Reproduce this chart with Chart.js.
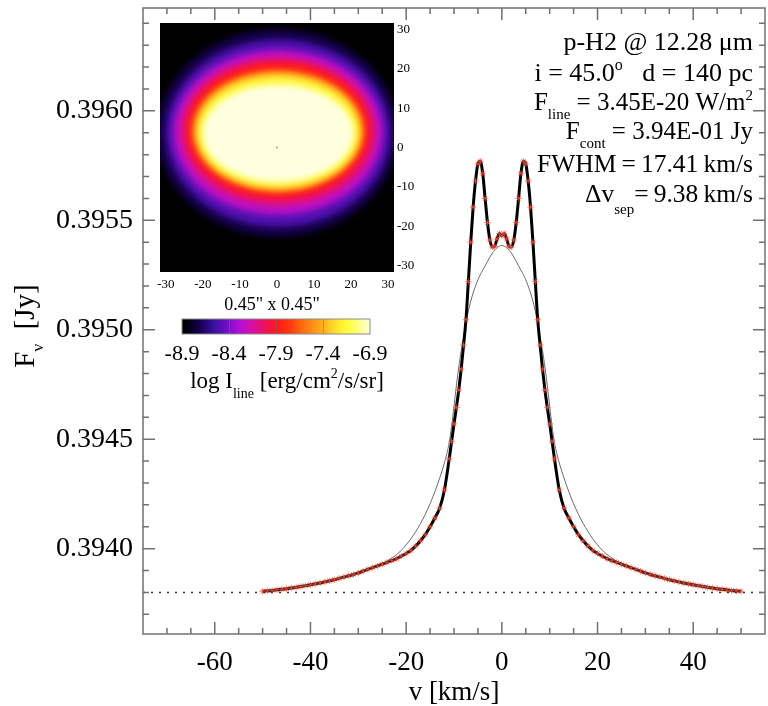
<!DOCTYPE html>
<html lang="en">
<head>
<meta charset="UTF-8" />
<title>p-H2 line profile</title>
<script src="https://cdn.jsdelivr.net/npm/chart.js"></script>
<style>
    html, body { margin: 0; padding: 0; background: #fff; overflow: hidden; }
    #wrap { position: relative; width: 770px; height: 706px; }
    #mainBox { position: absolute; left: 0; top: 0; width: 770px; height: 706px; }
    #insetBox { position: absolute; left: 150px; top: 0; width: 290px; height: 320px; }
    #barBox { position: absolute; left: 150px; top: 310px; width: 260px; height: 90px; }
</style>
</head>
<body>
<div id="wrap">
    <div id="mainBox"><canvas id="profile"></canvas></div>
    <div id="insetBox"><canvas id="inset"></canvas></div>
    <div id="barBox"><canvas id="cbar"></canvas></div>
</div>

<script>
// line profile, v in km/s, flux in Jy
const velocity = [
    -50, -49, -48, -47, -46, -45, -44, -43, -42, -41, -40, -39, -38, -37, -36, -35, -34, -33, -32, -31,
    -30, -29, -28, -27, -26, -25, -24, -23, -22, -21, -20, -19, -18, -17, -16, -15, -14, -13, -12, -11,
    -10.5, -10, -9.5, -9, -8.5, -8, -7.5, -7, -6.5, -6, -5.5, -5, -4.5, -4, -3.5, -3, -2.5, -2, -1.5, -1, -0.5,
    0,
    0.5, 1, 1.5, 2, 2.5, 3, 3.5, 4, 4.5, 5, 5.5, 6, 6.5, 7, 7.5, 8, 8.5, 9, 9.5, 10, 10.5,
    11, 12, 13, 14, 15, 16, 17, 18, 19, 20, 21, 22, 23, 24, 25, 26, 27, 28, 29, 30,
    31, 32, 33, 34, 35, 36, 37, 38, 39, 40, 41, 42, 43, 44, 45, 46, 47, 48, 49, 50
];
const fluxModel = [
    0.393805, 0.393807, 0.393809, 0.393812, 0.393814, 0.393817, 0.393820, 0.393823, 0.393827, 0.393831,
    0.393835, 0.393839, 0.393843, 0.393848, 0.393853, 0.393858, 0.393864, 0.393870, 0.393876, 0.393882,
    0.393889, 0.393897, 0.393905, 0.393913, 0.393921, 0.393929, 0.393937, 0.393945, 0.393954, 0.393966,
    0.393978, 0.393992, 0.394012, 0.394036, 0.394064, 0.394100, 0.394140, 0.394185, 0.394268, 0.394410,
    0.394490, 0.394570, 0.394645, 0.394725, 0.394820, 0.394930, 0.395046, 0.395220, 0.395400, 0.395560,
    0.395680, 0.395758, 0.395770, 0.395715, 0.395600, 0.395490, 0.395410, 0.395378, 0.395382, 0.395415, 0.395440,
    0.395430,
    0.395440, 0.395415, 0.395382, 0.395378, 0.395410, 0.395490, 0.395600, 0.395715, 0.395770, 0.395758,
    0.395680, 0.395560, 0.395400, 0.395220, 0.395046, 0.394930, 0.394820, 0.394725, 0.394645, 0.394570, 0.394490,
    0.394410, 0.394268, 0.394185, 0.394140, 0.394100, 0.394064, 0.394036, 0.394012, 0.393992, 0.393978,
    0.393966, 0.393954, 0.393945, 0.393937, 0.393929, 0.393921, 0.393913, 0.393905, 0.393897, 0.393889,
    0.393882, 0.393876, 0.393870, 0.393864, 0.393858, 0.393853, 0.393848, 0.393843, 0.393839, 0.393835,
    0.393831, 0.393827, 0.393823, 0.393820, 0.393817, 0.393814, 0.393812, 0.393809, 0.393807, 0.393805
];
const fluxFit = [
    0.393805, 0.393807, 0.393809, 0.393812, 0.393814, 0.393817, 0.393820, 0.393823, 0.393827, 0.393831,
    0.393835, 0.393839, 0.393843, 0.393848, 0.393853, 0.393858, 0.393864, 0.393870, 0.393876, 0.393882,
    0.393889, 0.393897, 0.393905, 0.393913, 0.393921, 0.393931, 0.393943, 0.393957, 0.393973, 0.393993,
    0.394017, 0.394045, 0.394078, 0.394115, 0.394157, 0.394205, 0.394260, 0.394322, 0.394392, 0.394485,
    0.394560, 0.394650, 0.394745, 0.394830, 0.394905, 0.394965, 0.395030, 0.395085, 0.395130, 0.395168,
    0.395200, 0.395228, 0.395252, 0.395272, 0.395292, 0.395312, 0.395332, 0.395350, 0.395364, 0.395375, 0.395382,
    0.395385,
    0.395382, 0.395375, 0.395364, 0.395350, 0.395332, 0.395312, 0.395292, 0.395272, 0.395252, 0.395228,
    0.395200, 0.395168, 0.395130, 0.395085, 0.395030, 0.394965, 0.394905, 0.394830, 0.394745, 0.394650, 0.394560,
    0.394485, 0.394392, 0.394322, 0.394260, 0.394205, 0.394157, 0.394115, 0.394078, 0.394045, 0.394017,
    0.393993, 0.393973, 0.393957, 0.393943, 0.393931, 0.393921, 0.393913, 0.393905, 0.393897, 0.393889,
    0.393882, 0.393876, 0.393870, 0.393864, 0.393858, 0.393853, 0.393848, 0.393843, 0.393839, 0.393835,
    0.393831, 0.393827, 0.393823, 0.393820, 0.393817, 0.393814, 0.393812, 0.393809, 0.393807, 0.393805
];
const contVel = [-75, 55];
const contFlux = [0.3938, 0.3938];

const xTicks = [-70, -65, -60, -55, -50, -45, -40, -35, -30, -25, -20, -15, -10, -5, 0, 5, 10, 15, 20, 25, 30, 35, 40, 45, 50];
const yTicks = [0.3937, 0.3938, 0.3939, 0.3940, 0.3941, 0.3942, 0.3943, 0.3944, 0.3945, 0.3946, 0.3947, 0.3948,
    0.3949, 0.3950, 0.3951, 0.3952, 0.3953, 0.3954, 0.3955, 0.3956, 0.3957, 0.3958, 0.3959, 0.3960,
    0.3961, 0.3962, 0.3963, 0.3964];

// inset map: contours of log I_line (offsets in image units)
const ringLevel = [-8.72, -8.5, -8.25, -8.03, -7.88, -7.6, -7.38, -7.15, -6.9];
const ringCx = [0.2, 0.3, 0.3, 0.3, 0.3, 0.3, 0.3, 0.3, 0.3];
const ringCy = [3.7, 3.65, 3.85, 4.1, 4.4, 4.25, 4.1, 4.0, 3.6];
const ringRx = [32.5, 30.3, 28.3, 26.3, 24.6, 23.2, 22.4, 21.7, 20.4];
const ringRy = [26.3, 23.75, 20.95, 18.7, 17.1, 15.45, 14.8, 14.0, 12.4];
const starPos = [{ x: 0, y: 0 }];
const insetTicks = [-30, -20, -10, 0, 10, 20, 30];

// colour table
const cbarTicks = [-8.9, -8.4, -7.9, -7.4, -6.9];
const cmapLevel = [-8.9, -8.84, -8.71, -8.56, -8.42, -8.3, -8.18, -8.04, -7.89, -7.75, -7.58, -7.4, -7.22, -7.12, -6.9];
const cmapColor = ['#000000', '#050010', '#150050', '#3a10a0', '#7010c8', '#b010d8', '#d010b0', '#e8106a',
    '#ff1818', '#ff3a10', '#ff7a10', '#ffb020', '#fff030', '#ffff40', '#ffffe0'];

const SERIF = '"Liberation Serif", "DejaVu Serif", serif';
Chart.defaults.font.family = SERIF;
Chart.defaults.color = '#000';

function hexRgb(h) {
    return [parseInt(h.slice(1, 3), 16), parseInt(h.slice(3, 5), 16), parseInt(h.slice(5, 7), 16)];
}
function cmap(level) {
    if (level <= cmapLevel[0]) return cmapColor[0];
    for (let i = 1; i < cmapLevel.length; i++) {
        if (level <= cmapLevel[i]) {
            const f = (level - cmapLevel[i - 1]) / (cmapLevel[i] - cmapLevel[i - 1]);
            const a = hexRgb(cmapColor[i - 1]), b = hexRgb(cmapColor[i]);
            const c = a.map((v, k) => Math.round(v + (b[k] - v) * f));
            return `rgb(${c[0]},${c[1]},${c[2]})`;
        }
    }
    return cmapColor[cmapColor.length - 1];
}

// text with sub/superscripts
function drawRich(ctx, runs, x, y, size, align) {
    const small = Math.round(size * 0.6);
    const setFont = r => { ctx.font = `${r.sub || r.sup ? small : size}px ${SERIF}`; };
    let total = 0;
    runs.forEach(r => { setFont(r); total += ctx.measureText(r.t).width; });
    let cx = align === 'right' ? x - total : align === 'center' ? x - total / 2 : x;
    ctx.textAlign = 'left';
    ctx.textBaseline = 'alphabetic';
    runs.forEach(r => {
        setFont(r);
        const dy = r.sub ? size * (r.low || 0.36) : r.sup ? -size * 0.42 : 0;
        ctx.fillText(r.t, cx, y + dy);
        cx += ctx.measureText(r.t).width;
    });
}

function noPad(s) {
    s.paddingTop = 0; s.paddingBottom = 0; s.paddingLeft = 0; s.paddingRight = 0;
}

const frameTicks = {
    id: 'frameTicks',
    afterDatasetsDraw(chart) {
        const { ctx, chartArea: a, scales: { x, y } } = chart;
        ctx.save();
        ctx.strokeStyle = '#707070';
        ctx.lineWidth = 1.5;
        ctx.strokeRect(a.left, a.top, a.right - a.left, a.bottom - a.top);
        ctx.beginPath();
        x.ticks.forEach(t => {
            const px = x.getPixelForValue(t.value);
            const len = t.value % 20 === 0 ? 12 : 6;
            ctx.moveTo(px, a.bottom); ctx.lineTo(px, a.bottom - len);
            ctx.moveTo(px, a.top); ctx.lineTo(px, a.top + len);
        });
        y.ticks.forEach(t => {
            const py = y.getPixelForValue(t.value);
            const len = Math.round(t.value * 1e4) % 5 === 0 ? 12 : 6;
            ctx.moveTo(a.left, py); ctx.lineTo(a.left + len, py);
            ctx.moveTo(a.right, py); ctx.lineTo(a.right - len, py);
        });
        ctx.stroke();
        ctx.restore();
    },
    afterDraw(chart) {
        const { ctx, chartArea: a } = chart;
        ctx.save();
        ctx.fillStyle = '#000';
        drawRich(ctx, [{ t: 'v [km/s]' }], (a.left + a.right) / 2, 700, 27, 'center');
        ctx.translate(34, 326);
        ctx.rotate(-Math.PI / 2);
        drawRich(ctx, [{ t: 'F' }, { t: 'ν', sub: true, low: 0.3 }, { t: '  [Jy]' }], 0, 0, 29, 'center');
        ctx.restore();

        ctx.save();
        ctx.fillStyle = '#000';
        const R = 753;
        const th = '\u2009';
        drawRich(ctx, [{ t: 'p-H2 @ 12.28 μm' }], R, 50, 26, 'right');
        drawRich(ctx, [{ t: 'i = 45.0' }, { t: 'o', sup: true }, { t: '   d = 140 pc' }], R, 81, 26, 'right');
        drawRich(ctx, [{ t: 'F' }, { t: 'line', sub: true, low: 0.34 }, { t: ' = 3.45E-20 W/m' }, { t: '2', sup: true }], R, 110, 25, 'right');
        drawRich(ctx, [{ t: 'F' }, { t: 'cont', sub: true, low: 0.36 }, { t: ' = 3.94E-01 Jy' }], R, 139, 25, 'right');
        drawRich(ctx, [{ t: 'FWHM' + th + '=' + th + '17.41' + th + 'km/s' }], R, 172, 25.5, 'right');
        drawRich(ctx, [{ t: 'Δv' }, { t: 'sep', sub: true, low: 0.46 }, { t: '=' + th + '9.38' + th + 'km/s' }], R, 202, 25.5, 'right');
        ctx.restore();
    }
};

new Chart(document.getElementById('profile'), {
    type: 'scatter',
    data: {
        datasets: [
            {
                label: 'model',
                data: velocity.map((v, i) => ({ x: v, y: fluxModel[i] })),
                showLine: true,
                borderColor: '#000',
                borderWidth: 3,
                cubicInterpolationMode: 'monotone',
                pointStyle: 'star',
                pointRadius: 3.2,
                pointBorderColor: 'rgba(240,80,60,0.7)',
                pointBorderWidth: 1,
                pointBackgroundColor: 'rgba(0,0,0,0)'
            },
            {
                label: 'fit',
                data: velocity.map((v, i) => ({ x: v, y: fluxFit[i] })),
                showLine: true,
                borderColor: '#6a6a6a',
                borderWidth: 1,
                cubicInterpolationMode: 'monotone',
                pointRadius: 0
            },
            {
                label: 'continuum',
                data: contVel.map((v, i) => ({ x: v, y: contFlux[i] })),
                showLine: true,
                borderColor: '#333',
                borderWidth: 1.5,
                borderDash: [2, 6],
                pointRadius: 0
            }
        ]
    },
    options: {
        responsive: true,
        maintainAspectRatio: false,
        animation: false,
        events: [],
        layout: { padding: { left: 0, top: 8, right: 1, bottom: 0 } },
        plugins: { legend: { display: false }, tooltip: { enabled: false } },
        scales: {
            x: {
                type: 'linear', min: -75, max: 55,
                grid: { display: false, drawTicks: false },
                border: { display: false },
                afterBuildTicks: s => { s.ticks = xTicks.map(v => ({ value: v })); },
                afterFit: s => { s.height = 72; noPad(s); },
                ticks: {
                    autoSkip: false, maxRotation: 0, padding: 13,
                    font: { size: 27 },
                    callback: v => (v % 20 === 0 ? String(v) : '')
                }
            },
            y: {
                type: 'linear', min: 0.39361, max: 0.39647,
                grid: { display: false, drawTicks: false },
                border: { display: false },
                afterBuildTicks: s => { s.ticks = yTicks.map(v => ({ value: v })); },
                afterFit: s => { s.width = 143; noPad(s); },
                ticks: {
                    autoSkip: false, padding: 10,
                    font: { size: 28 },
                    callback: v => (Math.round(v * 1e4) % 5 === 0 ? v.toFixed(4) : '')
                }
            }
        }
    },
    plugins: [frameTicks]
});

const ellipseMap = {
    id: 'ellipseMap',
    beforeDatasetsDraw(chart) {
        const { ctx, chartArea: a, scales: { x, y } } = chart;
        ctx.save();
        ctx.beginPath();
        ctx.rect(a.left, a.top, a.right - a.left, a.bottom - a.top);
        ctx.clip();
        ctx.fillStyle = cmap(-8.9);
        ctx.fillRect(a.left, a.top, a.right - a.left, a.bottom - a.top);
        ctx.filter = 'blur(3px)';
        ringLevel.forEach((lev, i) => {
            const cx = x.getPixelForValue(ringCx[i]);
            const cy = y.getPixelForValue(ringCy[i]);
            const rx = Math.abs(x.getPixelForValue(ringCx[i] + ringRx[i]) - cx);
            const ry = Math.abs(y.getPixelForValue(ringCy[i] + ringRy[i]) - cy);
            ctx.fillStyle = cmap(lev);
            ctx.beginPath();
            ctx.ellipse(cx, cy, rx, ry, 0, 0, Math.PI * 2);
            ctx.fill();
        });
        ctx.restore();
    },
    afterDraw(chart) {
        const { ctx } = chart;
        ctx.save();
        ctx.fillStyle = '#000';
        drawRich(ctx, [{ t: '0.45" x 0.45"' }], 122, 310, 18, 'center');
        ctx.restore();
    }
};

new Chart(document.getElementById('inset'), {
    type: 'scatter',
    data: {
        datasets: [{
            data: starPos,
            pointRadius: 1,
            pointBorderWidth: 0,
            pointBackgroundColor: '#9a9a9a'
        }]
    },
    options: {
        responsive: true,
        maintainAspectRatio: false,
        animation: false,
        events: [],
        layout: { padding: { left: 10, top: 23, right: 0, bottom: 0 } },
        plugins: { legend: { display: false }, tooltip: { enabled: false } },
        scales: {
            x: {
                type: 'linear', min: -31.6, max: 31.6, position: 'bottom',
                grid: { display: false, drawTicks: false },
                border: { display: false },
                afterBuildTicks: s => { s.ticks = insetTicks.map(v => ({ value: v })); },
                afterFit: s => { s.height = 48; noPad(s); },
                ticks: { autoSkip: false, maxRotation: 0, padding: 5, font: { size: 13 } }
            },
            y: {
                type: 'linear', min: -31.6, max: 31.6, position: 'right',
                grid: { display: false, drawTicks: false },
                border: { display: false },
                afterBuildTicks: s => { s.ticks = insetTicks.map(v => ({ value: v })); },
                afterFit: s => { s.width = 46; noPad(s); },
                ticks: { autoSkip: false, padding: 3, font: { size: 13 } }
            }
        }
    },
    plugins: [ellipseMap]
});

const colorBar = {
    id: 'colorBar',
    beforeDatasetsDraw(chart) {
        const { ctx, chartArea: a, scales: { x } } = chart;
        const w = a.right - a.left, h = a.bottom - a.top;
        ctx.save();
        const g = ctx.createLinearGradient(a.left, 0, a.right, 0);
        cmapLevel.forEach((lev, i) => g.addColorStop((x.getPixelForValue(lev) - a.left) / w, cmapColor[i]));
        ctx.fillStyle = g;
        ctx.fillRect(a.left, a.top, w, h);
        ctx.strokeStyle = 'rgba(110,110,110,0.5)';
        ctx.lineWidth = 1;
        ctx.beginPath();
        cbarTicks.slice(1, -1).forEach(v => {
            const px = Math.round(x.getPixelForValue(v)) + 0.5;
            ctx.moveTo(px, a.top); ctx.lineTo(px, a.bottom);
        });
        ctx.stroke();
        ctx.strokeStyle = '#8a8a8a';
        ctx.strokeRect(a.left, a.top, w, h);
        ctx.restore();
    },
    afterDraw(chart) {
        const { ctx } = chart;
        ctx.save();
        ctx.fillStyle = '#000';
        drawRich(ctx, [{ t: 'log I' }, { t: 'line', sub: true, low: 0.45 }, { t: ' [erg/cm' }, { t: '2', sup: true }, { t: '/s/sr]' }],
            137, 78, 23, 'center');
        ctx.restore();
    }
};

new Chart(document.getElementById('cbar'), {
    type: 'scatter',
    data: { datasets: [{ data: [] }] },
    options: {
        responsive: true,
        maintainAspectRatio: false,
        animation: false,
        events: [],
        layout: { padding: { left: 32, top: 9, right: 40, bottom: 0 } },
        plugins: { legend: { display: false }, tooltip: { enabled: false } },
        scales: {
            x: {
                type: 'linear', min: -8.9, max: -6.9,
                grid: { display: false, drawTicks: false },
                border: { display: false },
                afterBuildTicks: s => { s.ticks = cbarTicks.map(v => ({ value: v })); },
                afterFit: s => { s.height = 66; noPad(s); },
                ticks: { autoSkip: false, maxRotation: 0, padding: 7, font: { size: 22 }, callback: v => v.toFixed(1) }
            },
            y: { display: false, min: 0, max: 1 }
        }
    },
    plugins: [colorBar]
});
</script>
</body>
</html>
